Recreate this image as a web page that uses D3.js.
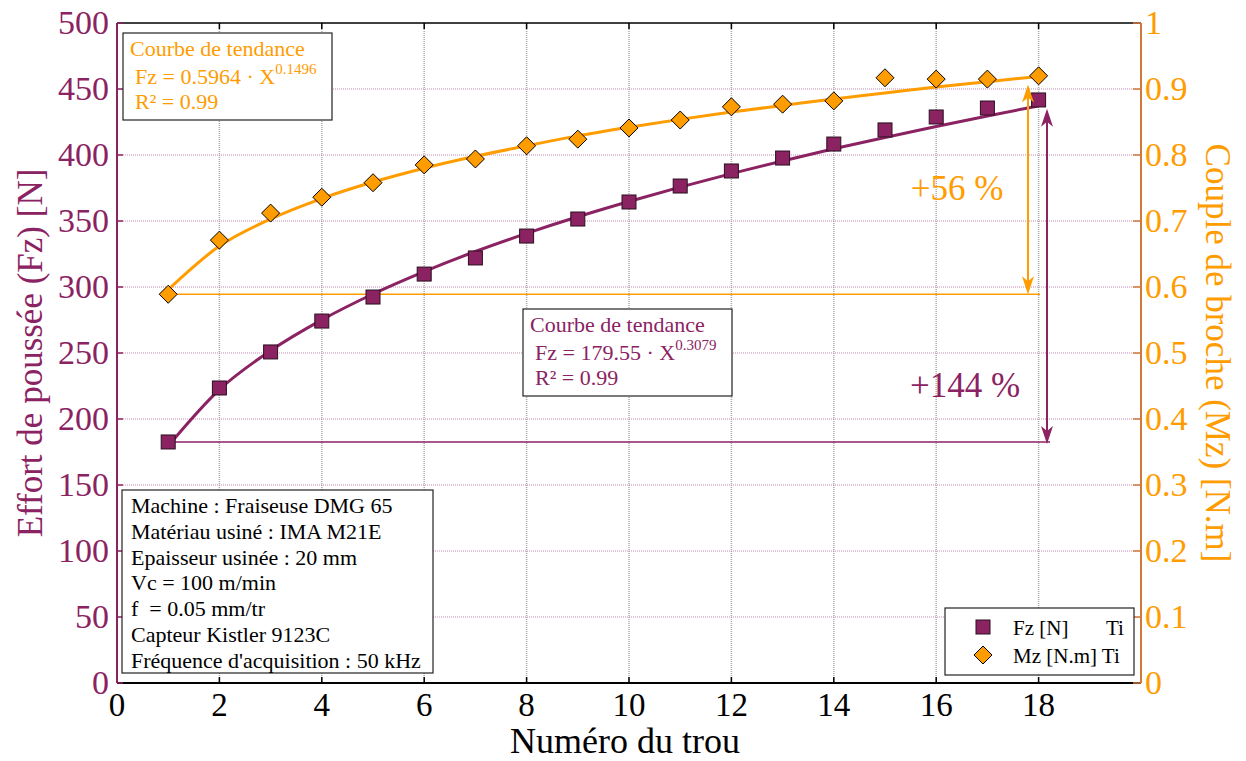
<!DOCTYPE html>
<html><head><meta charset="utf-8">
<script src="https://cdn.jsdelivr.net/npm/d3@7"></script>
<style>body{margin:0;background:#fff}svg{display:block}text{font-family:"Liberation Serif","Times New Roman",serif}</style>
</head><body>
<svg id="c" width="1246" height="761"></svg>
<script>
const holes = [1,2,3,4,5,6,7,8,9,10,11,12,13,14,15,16,17,18];
const fzValues = [182.6,223.5,250.8,274.2,292.4,309.8,322,338.6,351.5,364.4,376.5,387.9,397.7,408.3,419,428.8,435.6,441.7];
const mzValues = [0.589,0.671,0.712,0.736,0.758,0.785,0.794,0.814,0.824,0.841,0.853,0.873,0.877,0.882,0.917,0.915,0.915,0.920];
const fzTrend = [179.6,222.3,251.8,275.1,294.7,311.7,326.9,340.6,353.2,364.8,375.7,385.9,395.5,404.7,413.3,421.6,429.6,437.2];
const mzTrend = [0.596,0.662,0.703,0.734,0.759,0.780,0.798,0.814,0.829,0.842,0.854,0.865,0.875,0.885,0.894,0.903,0.911,0.919];
const xTicks = [0,2,4,6,8,10,12,14,16,18];
const leftTicks = [0,50,100,150,200,250,300,350,400,450,500];
const rightTicks = [0,0.1,0.2,0.3,0.4,0.5,0.6,0.7,0.8,0.9,1];
const infoLines = ["Machine : Fraiseuse DMG 65","Matériau usiné : IMA M21E","Epaisseur usinée : 20 mm","Vc = 100 m/min","f  = 0.05 mm/tr","Capteur Kistler 9123C","Fréquence d'acquisition : 50 kHz"];

const PURPLE="#8b2262", ORANGE="#ff9c00", RAXIS="#d4783a";
const svg=d3.select("#c");
const L=117,R=1141,T=23,B=683;
const x=d3.scaleLinear().domain([0,20]).range([L,R]);
const yL=d3.scaleLinear().domain([0,500]).range([B,T]);
const yR=d3.scaleLinear().domain([0,1]).range([B,T]);

// grid
const g=svg.append("g");
g.selectAll(".hg").data(leftTicks.filter(d=>d>0&&d<500)).join("line")
 .attr("x1",L).attr("x2",R).attr("y1",d=>yL(d)).attr("y2",d=>yL(d))
 .attr("stroke","#d9b3cc").attr("stroke-width",1.5).attr("stroke-dasharray","1,1");
g.selectAll(".vg").data(xTicks.filter(d=>d>0)).join("line")
 .attr("x1",d=>x(d)).attr("x2",d=>x(d)).attr("y1",T).attr("y2",B)
 .attr("stroke","#aaa").attr("stroke-width",1.5).attr("stroke-dasharray","1,1");

// frame top/bottom
svg.append("line").attr("x1",L).attr("x2",R).attr("y1",T).attr("y2",T).attr("stroke","#000").attr("stroke-width",1.5);
svg.append("line").attr("x1",L).attr("x2",R).attr("y1",B).attr("y2",B).attr("stroke","#000").attr("stroke-width",2);
svg.selectAll(".tt").data(xTicks).join("line").attr("x1",d=>x(d)).attr("x2",d=>x(d)).attr("y1",T).attr("y2",T+6).attr("stroke","#000").attr("stroke-width",1.5);
svg.selectAll(".tb").data(xTicks).join("line").attr("x1",d=>x(d)).attr("x2",d=>x(d)).attr("y1",B).attr("y2",B-6).attr("stroke","#000").attr("stroke-width",1.5);
svg.selectAll(".xl").data(xTicks).join("text").attr("x",d=>x(d)).attr("y",B+33).attr("text-anchor","middle")
 .attr("font-size",33).attr("fill","#000").text(d=>d);

// left axis
svg.append("line").attr("x1",L).attr("x2",L).attr("y1",T).attr("y2",B).attr("stroke",PURPLE).attr("stroke-width",2);
svg.selectAll(".lt").data(leftTicks).join("line").attr("x1",L).attr("x2",L+6).attr("y1",d=>yL(d)).attr("y2",d=>yL(d)).attr("stroke",PURPLE).attr("stroke-width",1.5);
svg.selectAll(".ll").data(leftTicks).join("text").attr("x",L-8).attr("y",d=>yL(d)+11).attr("text-anchor","end")
 .attr("font-size",34).attr("fill",PURPLE).text(d=>d);
// right axis
svg.append("line").attr("x1",R).attr("x2",R).attr("y1",T).attr("y2",B).attr("stroke",RAXIS).attr("stroke-width",2);
svg.selectAll(".rt").data(rightTicks).join("line").attr("x1",R).attr("x2",R-8).attr("y1",d=>yR(d)).attr("y2",d=>yR(d)).attr("stroke",RAXIS).attr("stroke-width",1.5);
svg.selectAll(".rl").data(rightTicks).join("text").attr("x",R+4).attr("y",d=>yR(d)+11).attr("text-anchor","start")
 .attr("font-size",34).attr("fill",ORANGE).text(d=>d);

// axis titles
svg.append("text").attr("transform",`translate(42,${(T+B)/2}) rotate(-90)`).attr("text-anchor","middle")
 .attr("font-size",35).attr("fill",PURPLE).text("Effort de poussée (Fz) [N]");
svg.append("text").attr("transform",`translate(1206,${(T+B)/2}) rotate(90)`).attr("text-anchor","middle")
 .attr("font-size",35).attr("fill",ORANGE).text("Couple de broche (Mz) [N.m]");
svg.append("text").attr("x",(L+R)/2-4).attr("y",753).attr("text-anchor","middle")
 .attr("font-size",36).attr("fill","#000").text("Numéro du trou");

// reference lines
svg.append("line").attr("x1",x(1)).attr("x2",1040).attr("y1",yR(mzValues[0])).attr("y2",yR(mzValues[0])).attr("stroke",ORANGE).attr("stroke-width",1.5);
svg.append("line").attr("x1",x(1)).attr("x2",1050).attr("y1",yL(fzValues[0])).attr("y2",yL(fzValues[0])).attr("stroke",PURPLE).attr("stroke-width",1.5);

// trend lines
const line=(ys)=>d3.line().x((d,i)=>x(holes[i])).y(d=>ys(d)).curve(d3.curveMonotoneX);
svg.append("path").datum(mzTrend).attr("d",line(yR)).attr("fill","none").attr("stroke",ORANGE).attr("stroke-width",3);
svg.append("path").datum(fzTrend).attr("d",line(yL)).attr("fill","none").attr("stroke",PURPLE).attr("stroke-width",3);

// markers
svg.selectAll(".sq").data(fzValues).join("rect").attr("x",(d,i)=>x(holes[i])-7).attr("y",d=>yL(d)-7).attr("width",14).attr("height",14)
 .attr("fill",PURPLE).attr("stroke","#2a1020").attr("stroke-width",1);
const dia=(cx,cy,r)=>`M${cx},${cy-r}L${cx+r},${cy}L${cx},${cy+r}L${cx-r},${cy}Z`;
svg.selectAll(".dm").data(mzValues).join("path").attr("d",(d,i)=>dia(x(holes[i]),yR(d),9))
 .attr("fill",ORANGE).attr("stroke","#000").attr("stroke-width",1);

// arrows
function dblArrow(xp,y1,y2,col){
  svg.append("line").attr("x1",xp).attr("x2",xp).attr("y1",y1+4).attr("y2",y2-4).attr("stroke",col).attr("stroke-width",2);
  svg.append("path").attr("d",`M${xp},${y1}L${xp-6},${y1+18}L${xp},${y1+13}L${xp+6},${y1+18}Z`).attr("fill",col);
  svg.append("path").attr("d",`M${xp},${y2}L${xp-6},${y2-18}L${xp},${y2-13}L${xp+6},${y2-18}Z`).attr("fill",col);
}
dblArrow(1028,yR(0.907),yR(mzValues[0]),ORANGE);
dblArrow(1047,yL(435),yL(fzValues[0])+2,PURPLE);
svg.append("text").attr("x",957).attr("y",200).attr("text-anchor","middle").attr("font-size",35).attr("fill",ORANGE).text("+56 %");
svg.append("text").attr("x",965).attr("y",397).attr("text-anchor","middle").attr("font-size",35).attr("fill",PURPLE).text("+144 %");

// trend boxes
function trendBox(bx,by,col,coef,exp){
  svg.append("rect").attr("x",bx).attr("y",by).attr("width",209).attr("height",87).attr("fill","#fff").attr("stroke","#222").attr("stroke-width",1.2);
  svg.append("text").attr("x",bx+7).attr("y",by+23).attr("font-size",22).attr("fill",col).text("Courbe de tendance");
  const t=svg.append("text").attr("x",bx+12).attr("y",by+51).attr("font-size",22).attr("fill",col);
  t.append("tspan").text(`Fz = ${coef} · X`);
  t.append("tspan").attr("dy",-10).attr("font-size",15).text(exp);
  svg.append("text").attr("x",bx+12).attr("y",by+76).attr("font-size",22).attr("fill",col).text("R² = 0.99");
}
trendBox(123,33,ORANGE,"0.5964","0.1496");
trendBox(523,309,PURPLE,"179.55","0.3079");

// info box
svg.append("rect").attr("x",122).attr("y",490).attr("width",311).attr("height",183).attr("fill","#fff").attr("stroke","#222").attr("stroke-width",1.2);
svg.selectAll(".info").data(infoLines).join("text").attr("x",131).attr("y",(d,i)=>513+i*25.8)
 .attr("font-size",22).attr("fill","#000").style("white-space","pre").attr("xml:space","preserve").text(d=>d);

// legend
svg.append("rect").attr("x",945).attr("y",608).attr("width",189).attr("height",67).attr("fill","#fff").attr("stroke","#222").attr("stroke-width",1.2);
svg.append("rect").attr("x",976).attr("y",620).attr("width",14).attr("height",14).attr("fill",PURPLE).attr("stroke","#2a1020");
svg.append("path").attr("d",dia(983,655,9)).attr("fill",ORANGE).attr("stroke","#000");
svg.append("text").attr("x",1013).attr("y",635).attr("font-size",21).text("Fz [N]");
svg.append("text").attr("x",1106).attr("y",635).attr("font-size",21).text("Ti");
svg.append("text").attr("x",1013).attr("y",663).attr("font-size",21).text("Mz [N.m] Ti");
</script>
</body></html>
